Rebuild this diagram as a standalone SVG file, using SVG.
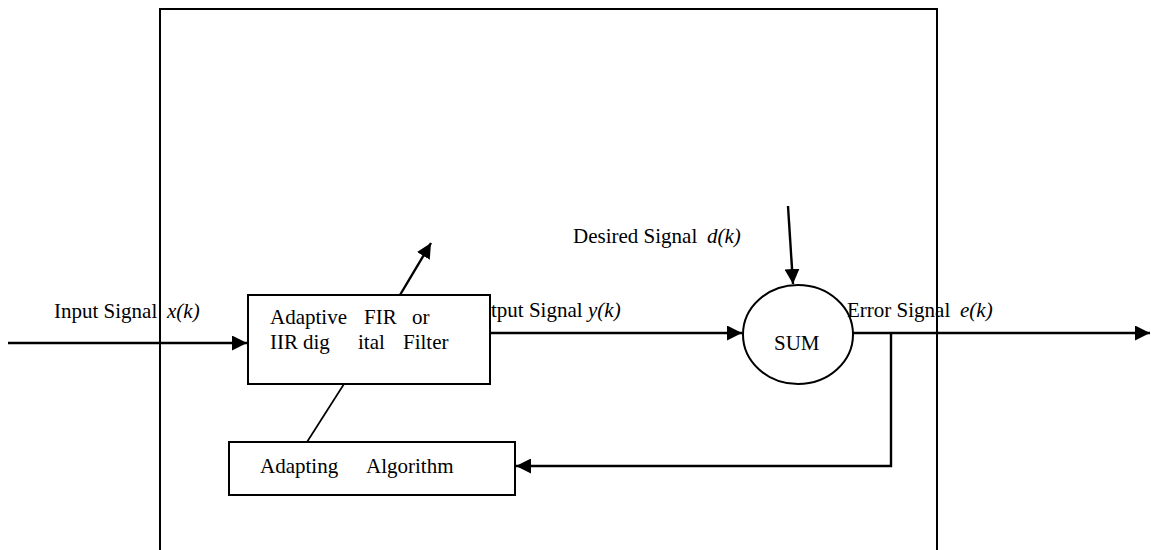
<svg xmlns="http://www.w3.org/2000/svg" width="1151" height="550" viewBox="0 0 1151 550">
<style>
text{font-family:"Liberation Serif","Times New Roman",serif;font-size:21px;fill:#000}
.it{font-style:italic}
.box{fill:#fff;stroke:#000;stroke-width:2}
.ln{fill:none;stroke:#000;stroke-width:2.4}
.thin{fill:none;stroke:#000;stroke-width:1.7}
</style>
<defs>
<marker id="ah" markerUnits="userSpaceOnUse" markerWidth="16" markerHeight="15" refX="15" refY="7.5" orient="auto">
<path d="M0,0 L15,7.5 L0,15 z" fill="#000"/>
</marker>
</defs>
<g id="frame"><path d="M160,550 V9 H937 V550" fill="none" stroke="#000" stroke-width="2"/></g>
<g id="labels">
<text x="54" y="318">Input Signal</text>
<text x="167" y="318" class="it">x(k)</text>
<text x="491" y="317">tput Signal</text>
<text x="588" y="317" class="it">y(k)</text>
<text x="573" y="243">Desired Signal</text>
<text x="707" y="243" class="it">d(k)</text>
<text x="960" y="317" class="it">e(k)</text>
</g>
<g id="connectors">
<line class="ln" x1="8" y1="343" x2="247" y2="343" marker-end="url(#ah)"/>
<line class="ln" x1="400" y1="295" x2="431" y2="243" marker-end="url(#ah)"/>
<line class="ln" x1="491" y1="333" x2="742" y2="333" marker-end="url(#ah)"/>
<line class="ln" x1="788" y1="206" x2="793" y2="284" marker-end="url(#ah)"/>
<line class="ln" x1="853" y1="333" x2="1150" y2="333" marker-end="url(#ah)"/>
<path class="ln" d="M891,333 V466 H516" marker-end="url(#ah)"/>
<line class="thin" x1="344" y1="384" x2="307" y2="442"/>
</g>
<g id="filter">
<rect class="box" x="248" y="295" width="242" height="89"/>
<text y="324"><tspan x="270">Adaptive</tspan><tspan x="364">FIR</tspan><tspan x="412">or</tspan></text>
<text y="349"><tspan x="270">IIR</tspan><tspan x="303">dig</tspan><tspan x="358">ital</tspan><tspan x="403">Filter</tspan></text>
</g>
<g id="sum">
<ellipse class="box" cx="798" cy="334.5" rx="55" ry="49.5"/>
<text x="774" y="350">SUM</text>
</g>
<text x="847" y="317">Error Signal</text>
<g id="algorithm">
<rect class="box" x="229" y="442" width="286" height="53"/>
<text y="473"><tspan x="260">Adapting</tspan><tspan x="366">Algorithm</tspan></text>
</g>
</svg>
